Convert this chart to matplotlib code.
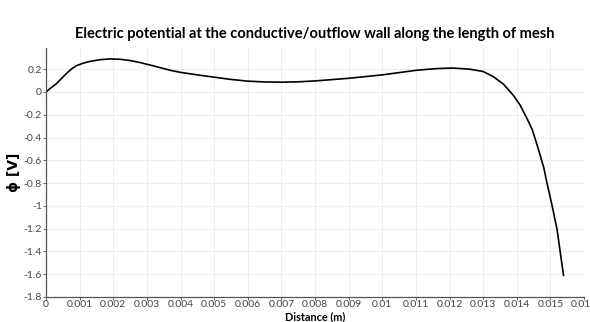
import matplotlib
matplotlib.use("Agg")
import matplotlib.pyplot as plt
from matplotlib.ticker import FuncFormatter, MultipleLocator

plt.rcParams["font.family"] = ["Lato", "DejaVu Sans"]

# values
distance = [0.0, 0.00015, 0.0003, 0.00045, 0.0006, 0.00075, 0.0009, 0.0011, 0.0013,
            0.0016, 0.0019, 0.0022, 0.0025, 0.0028, 0.0031, 0.0034, 0.0037, 0.004,
            0.0045, 0.005, 0.0055, 0.006, 0.0065, 0.007, 0.0075, 0.008, 0.009,
            0.01, 0.011, 0.0116, 0.0121, 0.0126, 0.013, 0.0133, 0.0136, 0.0139,
            0.0141, 0.0143, 0.01446, 0.0146, 0.0148, 0.0149, 0.015, 0.01506,
            0.0152, 0.01539]
phi = [0.0, 0.037, 0.07, 0.115, 0.16, 0.2, 0.23, 0.252, 0.268,
       0.283, 0.29, 0.287, 0.276, 0.258, 0.236, 0.213, 0.19, 0.172,
       0.15, 0.13, 0.11, 0.095, 0.088, 0.086, 0.089, 0.097, 0.12,
       0.15, 0.19, 0.205, 0.21, 0.2, 0.18, 0.135, 0.07, -0.03,
       -0.115, -0.23, -0.33, -0.46, -0.66, -0.8, -0.93, -1.01,
       -1.21, -1.61]

title = "Electric potential at the conductive/outflow wall along the length of mesh"

fig = plt.figure(figsize=(5.9, 3.22), dpi=100)
ax = fig.add_axes([46 / 590, 1 - 297 / 322, 538 / 590, (297 - 48) / 322])

ax.plot(distance, phi, color="black", lw=1.2)

ax.set_xlim(0, 0.016)
ax.set_ylim(-1.8, 0.386)
ax.xaxis.set_major_locator(MultipleLocator(0.001))
ax.yaxis.set_major_locator(MultipleLocator(0.2))
fmt = FuncFormatter(lambda v, p: "%g" % round(v, 6) if abs(v) > 1e-12 else "0")
ax.xaxis.set_major_formatter(fmt)
ax.yaxis.set_major_formatter(fmt)

ax.grid(True, color="#eeeeee", lw=0.8)
ax.set_axisbelow(True)
for s in ["top", "right"]:
    ax.spines[s].set_visible(False)
for s in ["left", "bottom"]:
    ax.spines[s].set_color("#555555")
    ax.spines[s].set_linewidth(0.9)
ax.tick_params(colors="#555555", labelcolor="#444444", labelsize=7.5, length=2, width=0.6, pad=1)
ax.tick_params(axis="x", pad=0.5)

ax.set_title(title, fontsize=10.5, fontweight="bold", pad=7)
ax.set_xlabel("Distance (m)", fontsize=7.8, fontweight="bold", va="top")
ax.xaxis.set_label_coords(0.5, -0.056)
ax.set_ylabel("ϕ [V]", fontsize=10, fontweight="bold", labelpad=2, family="DejaVu Sans")

fig.savefig("out.png", dpi=100)
